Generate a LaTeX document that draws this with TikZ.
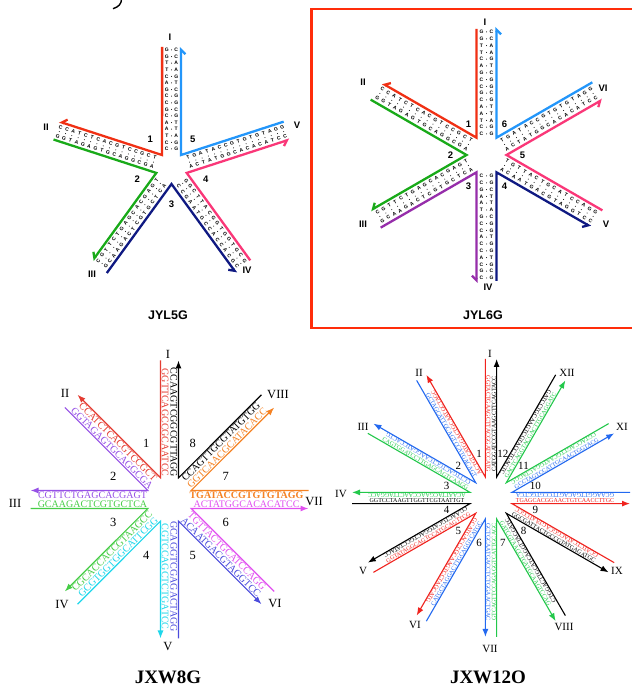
\documentclass[tikz,border=0pt]{standalone}
\usepackage{fontspec}
\setmainfont{Liberation Serif}
\newfontfamily\labsans{Liberation Sans}
\usetikzlibrary{arrows.meta,calc}

% strand colours, upper panels
\definecolor{yred}{RGB}{240,48,20}
\definecolor{yblue}{RGB}{35,150,250}
\definecolor{ygreen}{RGB}{25,170,25}
\definecolor{ynavy}{RGB}{15,25,130}
\definecolor{ypink}{RGB}{250,55,120}
\definecolor{ypurple}{RGB}{150,45,170}
\definecolor{boxred}{RGB}{255,45,10}
% strand colours, JXW8G
\definecolor{bred}{RGB}{228,60,50}
\definecolor{bpurple}{RGB}{150,80,230}
\definecolor{bgreen}{RGB}{70,205,70}
\definecolor{bcyan}{RGB}{30,215,235}
\definecolor{bblue}{RGB}{75,75,220}
\definecolor{bmag}{RGB}{225,80,240}
\definecolor{borange}{RGB}{245,130,35}
% strand colours, JXW12O
\definecolor{dred}{RGB}{240,35,30}
\definecolor{dblue}{RGB}{35,105,240}
\definecolor{dgreen}{RGB}{35,200,75}

\tikzset{
  yline/.style={line width=2.3pt, line join=miter},
  yhead/.style={-{Straight Barb[right,length=4.5pt,width=9pt]}},
  bpl/.style={font=\labsans\bfseries\fontsize{5}{5}\selectfont, inner sep=0pt},
  ylab/.style={font=\labsans\bfseries\fontsize{9.5}{10}\selectfont, inner sep=0pt},
  ytitle/.style={font=\labsans\bfseries\fontsize{12.5}{13}\selectfont, inner sep=0pt},
  xline/.style={line width=1.1pt, line join=miter},
  xhead/.style={-{Latex[length=8pt,width=6pt]}},
  seqA/.style={font=\fontsize{10}{10}\selectfont, inner sep=0pt},
  seqB/.style={font=\fontsize{6}{6}\selectfont, inner sep=0pt},
  xlab/.style={font=\fontsize{12.5}{13}\selectfont, inner sep=0pt},
  xlabs/.style={font=\fontsize{11}{11}\selectfont, inner sep=0pt},
  xtitle/.style={font=\bfseries\fontsize{19}{19}\selectfont, inner sep=0pt},
}

% one strand: in along arm #2 (side towards the next arm), round the
% junction corner, and out along the next arm
% #1 centre, #2 arm angle, #3 angle between arms, #4 half width,
% #5 arm length, #6 corner radius, #7 style, #8 name
\newcommand\dnastrand[8]{%
  \coordinate (#8-s) at ($(#1)+({#2}:{#5})+({#2+90}:{#4})$);
  \coordinate (#8-m) at ($(#1)+({#2+#3/2}:{#6})$);
  \coordinate (#8-e) at ($(#1)+({#2+#3}:{#5})+({#2+#3-90}:{#4})$);
  \draw[#7] (#8-s) -- (#8-m) -- (#8-e);}

% one row of base letters along an arm, from the outer end inwards
% #1 centre, #2 arm angle, #3 side offset, #4 letter rotation,
% #5 outer radius, #6 step, #7 name, #8 letters
\newcommand\bprow[8]{%
  \foreach \ch [count=\i from 0] in {#8}{%
    \node[bpl, rotate=#4] (#7-\i) at ($(#1)+({#2}:{#5-#6*\i})+({#2+90}:{#3})$) {\ch};}}

% pairing dots along the axis of an arm
\newcommand\bpdots[4]{%
  \foreach \i in {0,...,15}{\fill ($(#1)+({#2}:{#3-#4*\i})$) circle (0.5);}}

% sequence text along an arm
% #1 name, #2 centre, #3 arm angle, #4 side offset, #5 radius,
% #6 rotation, #7 style, #8 text
\newcommand\seqtext[8]{%
  \node[#7, rotate=#6] (#1) at ($(#2)+({#3}:{#5})+({#3+90}:{#4})$) {#8};}

\begin{document}
\begin{tikzpicture}[x=1pt,y=1pt]
\useasboundingbox (0,0) rectangle (631,687);
\fill[white] (0,0) rectangle (631,687);

% tail of a glyph at the top edge
\draw[line width=1.4pt] (121.5,688) .. controls (121.5,683) and (118.5,680) .. (113,678.3);

% ================= JYL5G =================
\coordinate (cA) at (171.5,519);
\dnastrand{cA}{90}{72}{9.4}{121}{16}{yline,color=yred,yhead}{A1}
\dnastrand{cA}{162}{72}{9.4}{121}{16}{yline,color=ygreen,yhead}{A2}
\dnastrand{cA}{234}{72}{9.4}{123}{16}{yline,color=ynavy,yhead}{A3}
\dnastrand{cA}{306}{72}{9.4}{121}{16}{yline,color=ypink,yhead}{A4}
\dnastrand{cA}{18}{72}{9.4}{121}{16}{yline,color=yblue,yhead}{A5}

\bprow{cA}{90}{4.7}{0}{118}{6.6}{A1p}{G,G,T,T,C,A,G,C,C,G,C,A,A,T,C,C}
\bprow{cA}{90}{-4.7}{0}{118}{6.6}{A1m}{C,C,A,A,G,T,C,G,G,C,G,T,T,A,G,G}
\bpdots{cA}{90}{118}{6.6}
\bprow{cA}{162}{4.7}{-18}{118}{6.6}{A2p}{G,G,T,A,G,A,G,T,G,C,A,G,G,C,G,A}
\bprow{cA}{162}{-4.7}{-18}{118}{6.6}{A2m}{C,C,A,T,C,T,C,A,C,G,T,C,C,G,C,T}
\bpdots{cA}{162}{118}{6.6}
\bprow{cA}{234}{4.7}{54}{118}{6.6}{A3p}{G,C,A,A,G,A,C,T,C,G,T,G,C,T,C,A}
\bprow{cA}{234}{-4.7}{54}{118}{6.6}{A3m}{C,G,T,T,C,T,G,A,G,C,A,C,G,A,G,T}
\bpdots{cA}{234}{118}{6.6}
\bprow{cA}{306}{4.7}{-54}{118}{6.6}{A4p}{G,C,G,T,G,G,T,G,G,C,A,T,T,C,G,G}
\bprow{cA}{306}{-4.7}{-54}{118}{6.6}{A4m}{C,G,C,A,C,C,A,C,C,G,T,A,A,G,C,C}
\bpdots{cA}{306}{118}{6.6}
\bprow{cA}{18}{4.7}{18}{118}{6.6}{A5p}{G,G,A,T,G,T,G,T,G,C,C,A,T,A,G,T}
\bprow{cA}{18}{-4.7}{18}{118}{6.6}{A5m}{C,C,T,A,C,A,C,A,C,G,G,T,A,T,C,A}
\bpdots{cA}{18}{118}{6.6}

\foreach \k in {1,...,5}{
  \node[ylab] (A-n\k) at ($(cA)+({90+72*(\k-1)+36}:36)$) {\k};}
\node[ylab] (A-I) at (170,650) {I};
\node[ylab] (A-II) at (46,560) {II};
\node[ylab] (A-III) at (92,413) {III};
\node[ylab] (A-IV) at (247,417) {IV};
\node[ylab] (A-V) at (297,562) {V};
\node[ytitle] (A-title) at (168,372) {JYL5G};

% ================= JYL6G =================
\draw[boxred, line width=2.6pt] (633,678) -- (311.5,678) -- (311.5,359) -- (633,359);
\coordinate (cB) at (486.5,532);
\dnastrand{cB}{90}{60}{10}{126}{20}{yline,color=yred,yhead}{Y1}
\dnastrand{cB}{150}{60}{10}{128}{20}{yline,color=ygreen,yhead}{Y2}
\dnastrand{cB}{210}{60}{10}{128}{20}{yline,color=ypurple,yhead}{Y3}
\dnastrand{cB}{270}{60}{10}{126}{20}{yline,color=ynavy,yhead}{Y4}
\dnastrand{cB}{330}{60}{10}{128}{20}{yline,color=ypink,yhead}{Y5}
\dnastrand{cB}{30}{60}{10}{128}{20}{yline,color=yblue,yhead}{Y6}

\bprow{cB}{90}{5}{0}{123}{6.8}{Y1p}{G,G,T,T,C,A,G,C,C,G,C,A,A,T,C,C}
\bprow{cB}{90}{-5}{0}{123}{6.8}{Y1m}{C,C,A,A,G,T,C,G,G,C,G,T,T,A,G,G}
\bpdots{cB}{90}{123}{6.8}
\bprow{cB}{150}{5}{-30}{123}{6.8}{Y2p}{G,G,T,A,G,A,G,T,G,C,A,G,G,C,G,A}
\bprow{cB}{150}{-5}{-30}{123}{6.8}{Y2m}{C,C,A,T,C,T,C,A,C,G,T,C,C,G,C,T}
\bpdots{cB}{150}{123}{6.8}
\bprow{cB}{210}{5}{30}{123}{6.8}{Y3p}{G,C,A,A,G,A,C,T,C,G,T,G,C,T,C,A}
\bprow{cB}{210}{-5}{30}{123}{6.8}{Y3m}{C,G,T,T,C,T,G,A,G,C,A,C,G,A,G,T}
\bpdots{cB}{210}{123}{6.8}
\bprow{cB}{270}{5}{0}{123}{6.8}{Y4p}{G,C,G,T,G,G,T,G,G,C,A,T,T,C,G,G}
\bprow{cB}{270}{-5}{0}{123}{6.8}{Y4m}{C,G,C,A,C,C,A,C,C,G,T,A,A,G,C,C}
\bpdots{cB}{270}{123}{6.8}
\bprow{cB}{330}{5}{-30}{123}{6.8}{Y5p}{G,G,A,C,C,T,A,C,G,T,C,A,T,T,G,T}
\bprow{cB}{330}{-5}{-30}{123}{6.8}{Y5m}{C,C,T,G,G,A,T,G,C,A,G,T,A,A,C,A}
\bpdots{cB}{330}{123}{6.8}
\bprow{cB}{30}{5}{30}{123}{6.8}{Y6p}{G,G,A,T,G,T,G,T,G,C,C,A,T,A,G,T}
\bprow{cB}{30}{-5}{30}{123}{6.8}{Y6m}{C,C,T,A,C,A,C,A,C,G,G,T,A,T,C,A}
\bpdots{cB}{30}{123}{6.8}

\foreach \k in {1,...,6}{
  \node[ylab] (Y-n\k) at ($(cB)+({90+60*(\k-1)+30}:36)$) {\k};}
\node[ylab] (Y-I) at (485,665) {I};
\node[ylab] (Y-II) at (363,605) {II};
\node[ylab] (Y-III) at (363,463) {III};
\node[ylab] (Y-IV) at (488,400) {IV};
\node[ylab] (Y-V) at (606,463) {V};
\node[ylab] (Y-VI) at (603,599) {VI};
\node[ytitle] (Y-title) at (483,372) {JYL6G};

% ================= JXW8G =================
\coordinate (cC) at (169.5,187.5);
\foreach \k/\col in {1/bred,2/bpurple,3/bgreen,4/bcyan,5/bblue,6/bmag,7/borange,8/black}{
  \dnastrand{cC}{90+45*(\k-1)}{45}{9}{139}{23.5}{xline,color=\col,xhead}{C\k}
  \node[xlab] (C-n\k) at ($(cC)+({112.5+45*(\k-1)}:61)$) {\k};
}
\seqtext{C1p}{cC}{90}{4.3}{77}{-90}{seqA,text=bred}{GGTTCAGCCGCAATCC}
\seqtext{C1m}{cC}{90}{-4.3}{77}{-90}{seqA,text=black}{CCAAGTCGGCGTTAGG}
\seqtext{C2p}{cC}{135}{4.3}{77}{-45}{seqA,text=bpurple}{GGTAGAGTGCAGGCGA}
\seqtext{C2m}{cC}{135}{-4.3}{77}{-45}{seqA,text=bred}{CCATCTCACGTCCGCT}
\seqtext{C3p}{cC}{180}{4.3}{77}{0}{seqA,text=bgreen}{GCAAGACTCGTGCTCA}
\seqtext{C3m}{cC}{180}{-4.3}{77}{0}{seqA,text=bpurple}{CGTTCTGAGCACGAGT}
\seqtext{C4p}{cC}{225}{4.3}{77}{45}{seqA,text=bcyan}{GCGTGGTGGCATTCGG}
\seqtext{C4m}{cC}{225}{-4.3}{77}{45}{seqA,text=bgreen}{CGCACCACCGTAAGCC}
\seqtext{C5p}{cC}{270}{4.3}{77}{-90}{seqA,text=bblue}{GCAGGTCGAGACTAGG}
\seqtext{C5m}{cC}{270}{-4.3}{77}{-90}{seqA,text=bcyan}{CGTCCAGCTCTGATCC}
\seqtext{C6p}{cC}{315}{4.3}{77}{-45}{seqA,text=bmag}{TGTTACTGCATCCAGG}
\seqtext{C6m}{cC}{315}{-4.3}{77}{-45}{seqA,text=bblue}{ACAATGACGTAGGTCC}
\seqtext{C7p}{cC}{0}{4.3}{77}{0}{seqA,text=borange,font=\bfseries\fontsize{10}{10}\selectfont}{TGATACCGTGTGTAGG}
\seqtext{C7m}{cC}{0}{-4.3}{77}{0}{seqA,text=bmag}{ACTATGGCACACATCC}
\seqtext{C8p}{cC}{45}{4.3}{77}{45}{seqA,text=black}{CCAGTTGCGTATGTGG}
\seqtext{C8m}{cC}{45}{-4.3}{77}{45}{seqA,text=borange}{GGTCAACGCATACACC}

\node[xlab] (C-I) at (168,333) {I};
\node[xlab] (C-II) at (65,294) {II};
\node[xlab] (C-III) at (15,184) {III};
\node[xlab] (C-IV) at (62,82) {IV};
\node[xlab] (C-V) at (168,40) {V};
\node[xlab] (C-VI) at (275,83) {VI};
\node[xlab] (C-VII) at (314,185) {VII};
\node[xlab] (C-VIII) at (278,292) {VIII};
\node[xtitle] (C-title) at (168,10) {JXW8G};

% ================= JXW12O =================
\coordinate (cD) at (491,189);
\foreach \k/\col in {1/dred,2/dblue,3/dgreen,4/black,5/dred,6/dblue,7/dgreen,8/black,9/dred,10/dblue,11/dgreen,12/black}{
  \dnastrand{cD}{90+30*(\k-1)}{30}{5.6}{139}{21.6}{xline,color=\col,xhead}{D\k}
  \node[xlabs] (D-n\k) at ($(cD)+({105+30*(\k-1)}:46)$) {\k};
}
\foreach \k/\ca/\cb/\sa/\sb in {
  1/dred/black/GGTACTGAAGCTTACGGATCCATG/CATGGATCCGTAAGCTTCAGTACC,
  2/dblue/dred/GCTAGCATTGCAGTCCATGACAGT/ACTGTCATGGACTGCAATGCTAGC,
  3/dgreen/dblue/CAGTGGATCCTTGAGCAGTCAAGG/CCTTGACTGCTCAAGGATCCACTG,
  4/black/dgreen/GGTCCTAAGTTGGTTCGTAATTGT/ACAATTACGAACCAACTTAGGACC,
  5/dred/black/GGTATAGGCAGTCCATGCAGTTCG/CGAACTGCATGGACTGCCTATACC,
  6/dblue/dred/CATGCTAGGACTTGCAGGTCATGC/GCATGACCTGCAAGTCCTAGCATG,
  7/dgreen/dblue/GTCAGTTCCAGAGGTCATTGCAGC/GCTGCAATGACCTCTGGAACTGAC,
  8/black/dgreen/CTGGACTTGCATCAGGTTACGATC/GATCGTAACCTGATGCAAGTCCAG,
  9/dred/black/GCATCTCATACGGCAGTAATCGCC/GGCGATTACTGCCGTATGAGATGC,
  10/dblue/dred/GCAAGGTTGACAGTTCCGTGCTCA/TGAGCACGGAACTGTCAACCTTGC,
  11/dgreen/dblue/CGTACCAGTTGCAATGGACTAGGC/GCCTAGTCCATTGCAACTGGTACG,
  12/black/dgreen/GATCCTGCAAGTCGTACCTGAGTC/GACTCAGGTACGACTTGCAGGATC}{
  \pgfmathsetmacro\th{90+30*(\k-1)}
  \seqtext{D\k-p}{cD}{\th}{2.8}{74}{\th+180}{seqB,text=\ca}{\sa}
  \seqtext{D\k-m}{cD}{\th}{-2.8}{74}{\th}{seqB,text=\cb}{\sb}
}
\node[xlabs] (D-I) at (490,333) {I};
\node[xlabs] (D-II) at (419,314) {II};
\node[xlabs] (D-III) at (363,260) {III};
\node[xlabs] (D-IV) at (341,193) {IV};
\node[xlabs] (D-V) at (363,116) {V};
\node[xlabs] (D-VI) at (415,62) {VI};
\node[xlabs] (D-VII) at (490,38) {VII};
\node[xlabs] (D-VIII) at (564,60) {VIII};
\node[xlabs] (D-IX) at (617,116) {IX};
\node[xlabs] (D-XI) at (622,260) {XI};
\node[xlabs] (D-XII) at (567,314) {XII};
\node[xtitle] (D-title) at (488,10) {JXW12O};
\end{tikzpicture}
\end{document}
